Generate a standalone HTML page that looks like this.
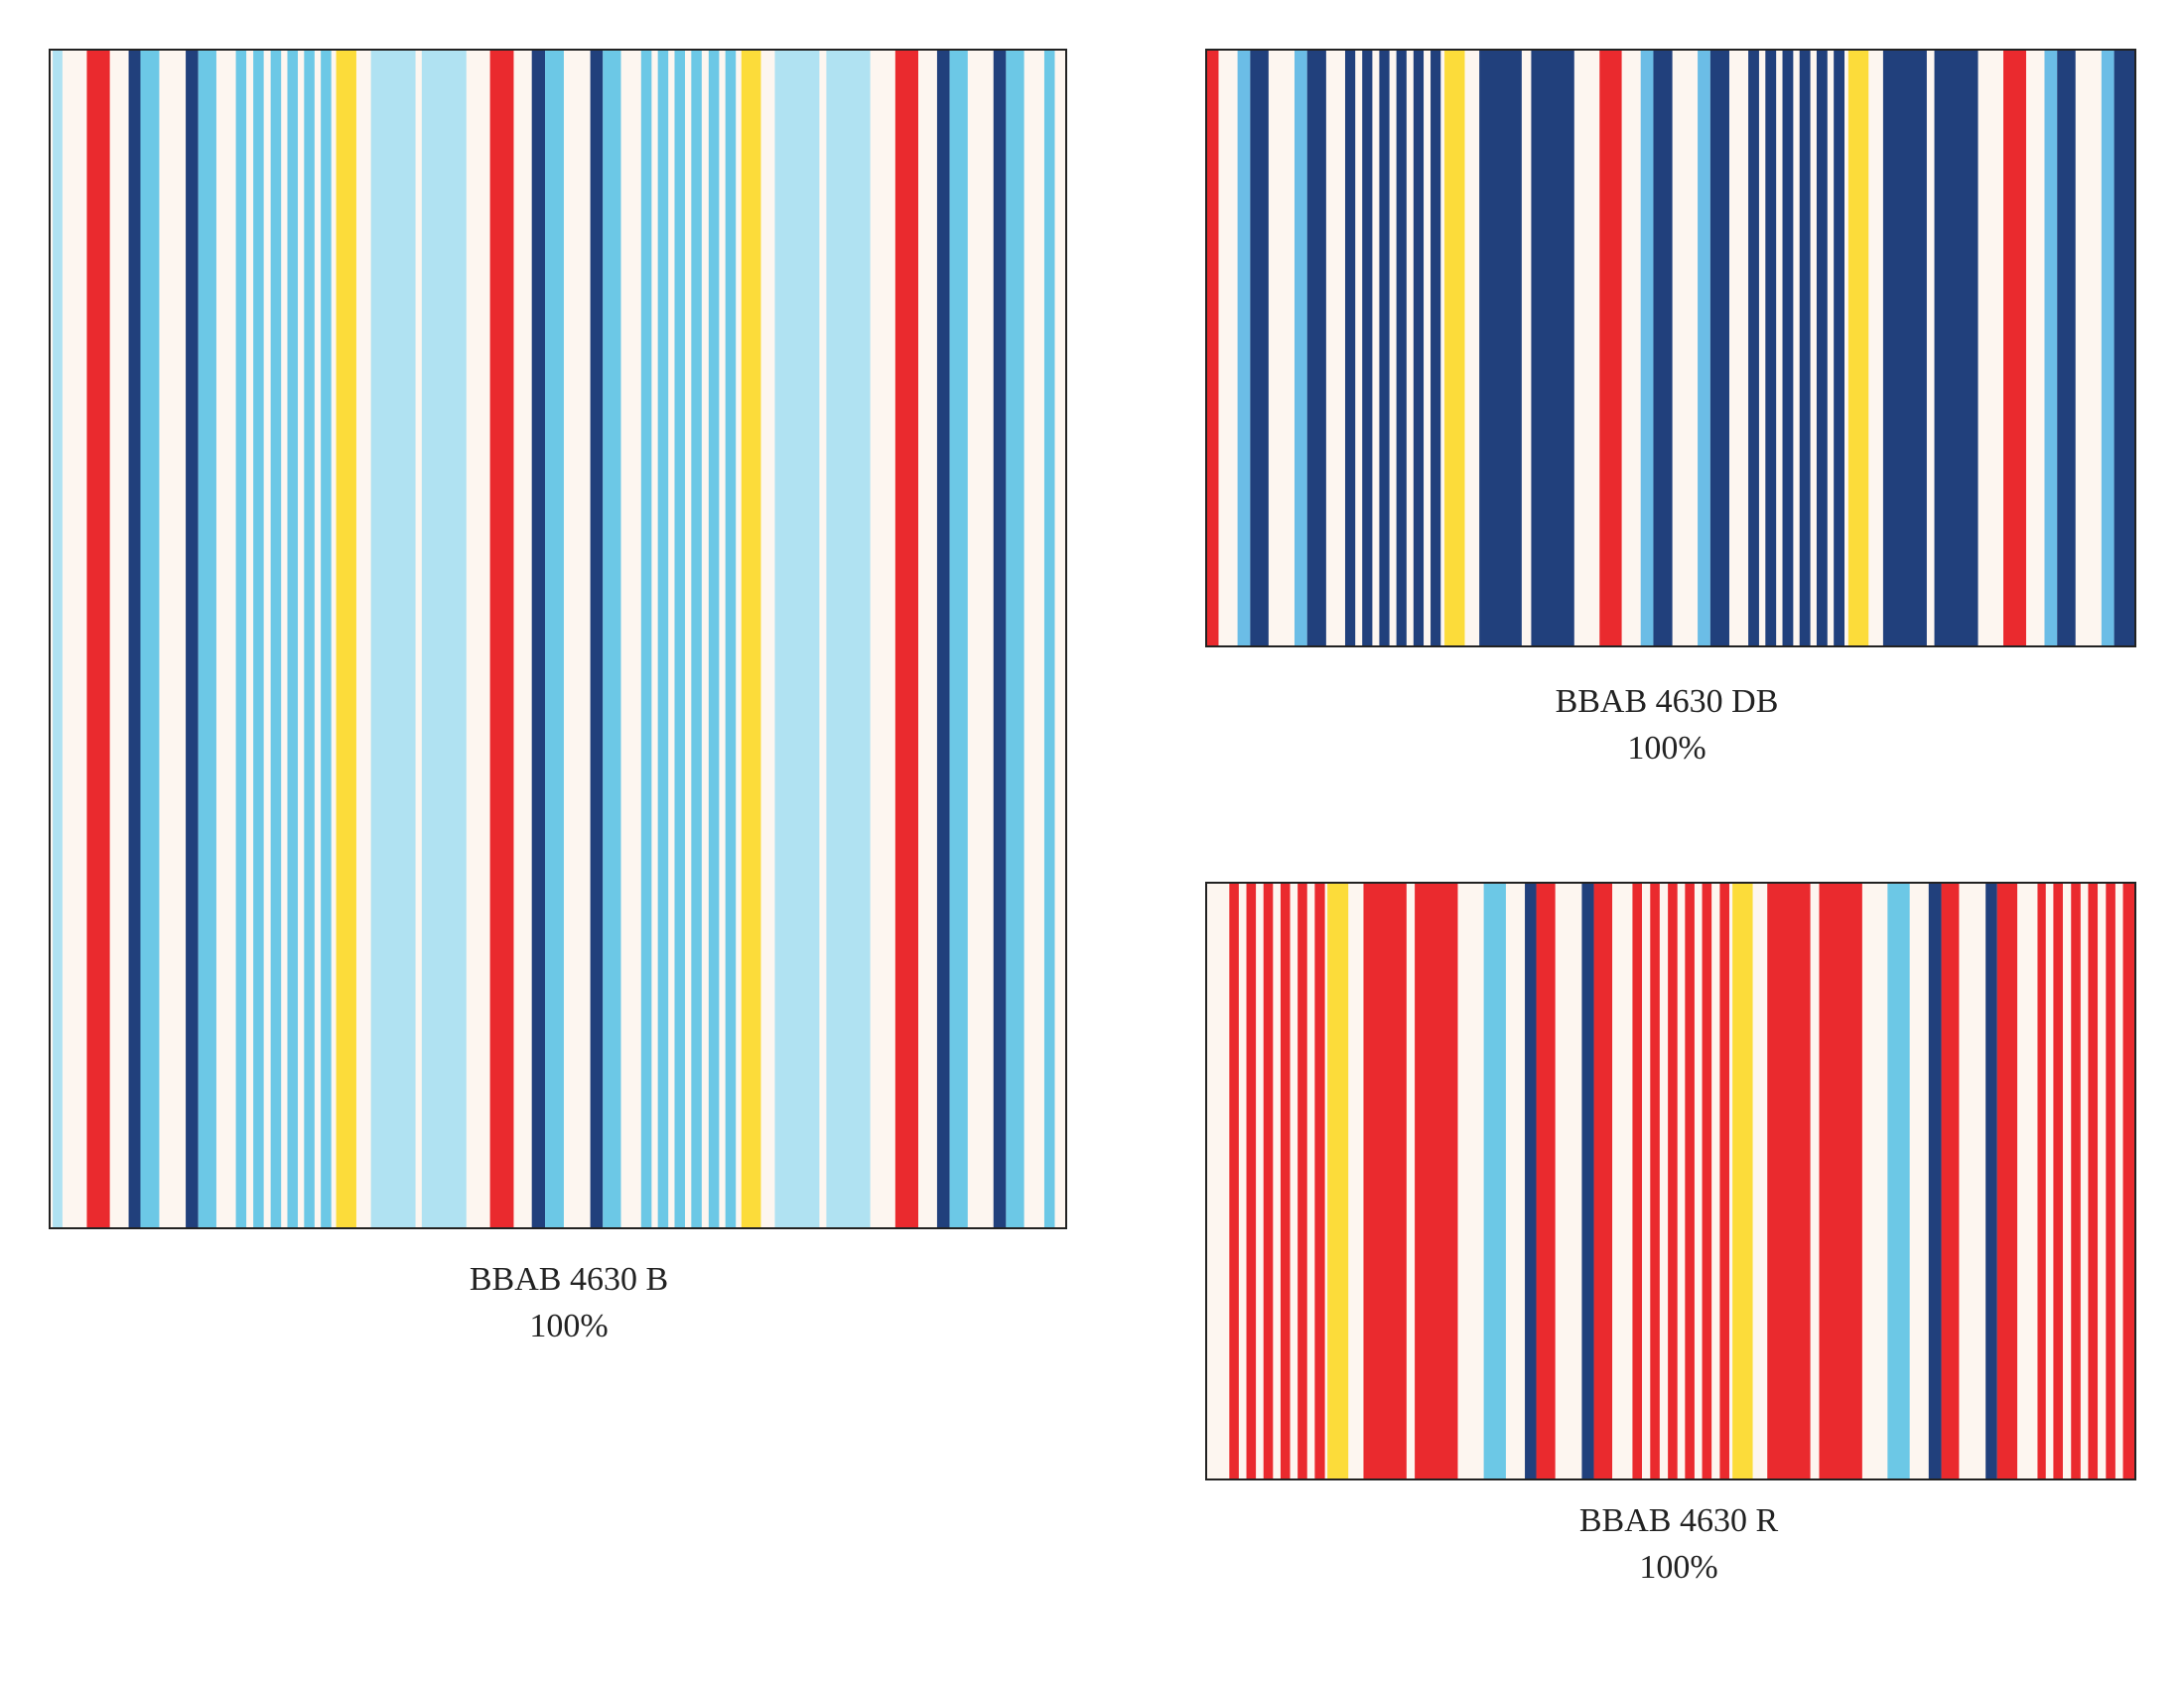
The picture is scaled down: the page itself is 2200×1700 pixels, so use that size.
<!DOCTYPE html>
<html><head><meta charset="utf-8"><style>
body{margin:0;width:2200px;height:1700px;background:#fff;position:relative;overflow:hidden;font-family:"Liberation Serif",serif;color:#222}
svg{position:absolute;display:block}
.p{position:absolute;outline:2px solid #222;outline-offset:0}
.t{position:absolute;width:600px;text-align:center;font-size:34px;line-height:47px}
</style></head><body>
<svg class="p" style="left:51px;top:51px;width:1022px;height:1185px" viewBox="73 0 1457 1" preserveAspectRatio="none">
<rect x="73" y="0" width="1457" height="1" fill="#fdf6f0"/>
<g fill="#b0e2f2"><rect x="76" width="14" height="1"/><rect x="533" width="64" height="1"/><rect x="606" width="64" height="1"/><rect x="1113" width="64" height="1"/><rect x="1187" width="63" height="1"/></g>
<g fill="#ea2a2e"><rect x="125" width="33" height="1"/><rect x="704" width="34" height="1"/><rect x="1286" width="33" height="1"/></g>
<g fill="#21407c"><rect x="185" width="17" height="1"/><rect x="267" width="18" height="1"/><rect x="764" width="19" height="1"/><rect x="848" width="18" height="1"/><rect x="1346" width="18" height="1"/><rect x="1427" width="18" height="1"/></g>
<g fill="#6cc8e6"><rect x="202" width="27" height="1"/><rect x="285" width="26" height="1"/><rect x="783" width="27" height="1"/><rect x="866" width="26" height="1"/><rect x="1364" width="26" height="1"/><rect x="1445" width="26" height="1"/><rect x="1500" width="15" height="1"/>
<rect x="339" width="15" height="1"/><rect x="364" width="15" height="1"/><rect x="389" width="15" height="1"/><rect x="413" width="15" height="1"/><rect x="437" width="15" height="1"/><rect x="461" width="15" height="1"/>
<rect x="921" width="15" height="1"/><rect x="945" width="15" height="1"/><rect x="969" width="15" height="1"/><rect x="993" width="15" height="1"/><rect x="1018" width="15" height="1"/><rect x="1042" width="15" height="1"/></g>
<g fill="#fcdc3a"><rect x="483" width="29" height="1"/><rect x="1065" width="28" height="1"/></g>
</svg>
<div class="t" style="left:273px;top:1265px">BBAB 4630 B<br>100%</div>

<svg class="p" style="left:1216px;top:51px;width:934px;height:599px" viewBox="25 0 1465 1" preserveAspectRatio="none">
<rect x="25" width="1465" height="1" fill="#fdf6f0"/>
<g fill="#ea2a2e"><rect x="25" width="18" height="1"/><rect x="645" width="35" height="1"/><rect x="1283" width="36" height="1"/></g>
<g fill="#6bbde6"><rect x="73" width="20" height="1"/><rect x="163" width="20" height="1"/><rect x="710" width="20" height="1"/><rect x="800" width="20" height="1"/><rect x="1348" width="20" height="1"/><rect x="1438" width="20" height="1"/></g>
<g fill="#21407c"><rect x="93" width="29" height="1"/><rect x="183" width="30" height="1"/><rect x="730" width="30" height="1"/><rect x="820" width="30" height="1"/><rect x="1368" width="29" height="1"/><rect x="1458" width="32" height="1"/>
<rect x="243" width="16" height="1"/><rect x="270" width="16" height="1"/><rect x="297" width="16" height="1"/><rect x="324" width="16" height="1"/><rect x="351" width="16" height="1"/><rect x="378" width="16" height="1"/>
<rect x="880" width="17" height="1"/><rect x="907" width="17" height="1"/><rect x="934" width="17" height="1"/><rect x="961" width="17" height="1"/><rect x="988" width="17" height="1"/><rect x="1015" width="17" height="1"/>
<rect x="455" width="67" height="1"/><rect x="537" width="68" height="1"/><rect x="1093" width="69" height="1"/><rect x="1174" width="69" height="1"/></g>
<g fill="#fcdc3a"><rect x="400" width="32" height="1"/><rect x="1038" width="32" height="1"/></g>
</svg>
<div class="t" style="left:1379px;top:683px">BBAB 4630 DB<br>100%</div>

<svg class="p" style="left:1216px;top:890px;width:934px;height:599px" viewBox="25 0 1465 1" preserveAspectRatio="none">
<rect x="25" width="1465" height="1" fill="#fdf6f0"/>
<g fill="#ea2a2e"><rect x="60" width="15" height="1"/><rect x="87" width="15" height="1"/><rect x="114" width="15" height="1"/><rect x="141" width="15" height="1"/><rect x="168" width="15" height="1"/><rect x="195" width="16" height="1"/>
<rect x="272" width="68" height="1"/><rect x="353" width="68" height="1"/><rect x="545" width="30" height="1"/><rect x="636" width="29" height="1"/>
<rect x="697" width="15" height="1"/><rect x="725" width="15" height="1"/><rect x="753" width="15" height="1"/><rect x="780" width="15" height="1"/><rect x="807" width="15" height="1"/><rect x="835" width="15" height="1"/>
<rect x="910" width="68" height="1"/><rect x="992" width="68" height="1"/><rect x="1185" width="28" height="1"/><rect x="1273" width="32" height="1"/>
<rect x="1337" width="13" height="1"/><rect x="1362" width="15" height="1"/><rect x="1390" width="15" height="1"/><rect x="1417" width="15" height="1"/><rect x="1445" width="15" height="1"/><rect x="1472" width="18" height="1"/></g>
<g fill="#fcdc3a"><rect x="215" width="33" height="1"/><rect x="855" width="32" height="1"/></g>
<g fill="#6cc8e6"><rect x="462" width="35" height="1"/><rect x="1100" width="35" height="1"/></g>
<g fill="#21407c"><rect x="527" width="18" height="1"/><rect x="617" width="19" height="1"/><rect x="1165" width="20" height="1"/><rect x="1255" width="18" height="1"/></g>
</svg>
<div class="t" style="left:1391px;top:1508px">BBAB 4630 R<br>100%</div>
</body></html>
